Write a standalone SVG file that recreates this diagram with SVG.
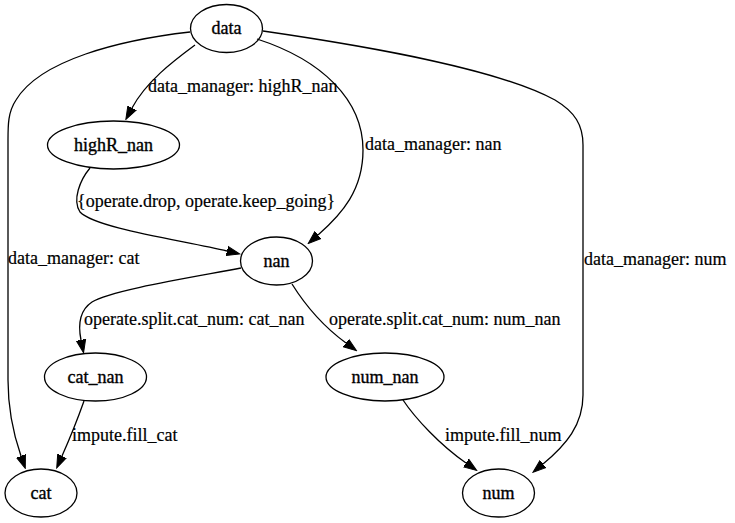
<svg xmlns="http://www.w3.org/2000/svg" width="735" height="523" viewBox="0 0 735 523">
  <style>
    .node ellipse { fill: none; stroke: #000; stroke-width: 1.3; }
    .node text { font-family: "Liberation Serif", "Times New Roman", serif; font-size: 18px; text-anchor: middle; fill: #000; stroke: #000; stroke-width: 0.35; }
    .edge path { fill: none; stroke: #000; stroke-width: 1.3; marker-end: url(#arrow); }
    .edge text { font-family: "Liberation Serif", "Times New Roman", serif; font-size: 18px; text-anchor: start; fill: #000; stroke: #000; stroke-width: 0.2; }
  </style>
  <defs>
    <marker id="arrow" viewBox="0 -6 14 12" refX="0" refY="0" markerWidth="14" markerHeight="12" markerUnits="userSpaceOnUse" orient="auto">
      <polygon points="0,-4.7 13,0 0,4.7" fill="#000" stroke="#000" stroke-width="1"/>
    </marker>
  </defs>
  <rect width="735" height="523" fill="#fff"/>

  <g id="edges">
    <!-- data -> highR_nan -->
    <g class="edge" id="e_data_highR">
      <path d="M195,45 C172,62 146,82 132,108"/>
      <text x="148" y="92">data_manager: highR_nan</text>
    </g>
    <!-- data -> nan -->
    <g class="edge" id="e_data_nan">
      <path d="M257,39 C322,60 363,100 363,150 C363,190 342,214 318,235"/>
      <text x="365" y="150">data_manager: nan</text>
    </g>
    <!-- data -> cat -->
    <g class="edge" id="e_data_cat">
      <path d="M190,32 C120,40 40,60 16,100 C8,112 8,125 8,140 L8,380 C8,410 13,433 21,456"/>
      <text x="8" y="264">data_manager: cat</text>
    </g>
    <!-- data -> num -->
    <g class="edge" id="e_data_num">
      <path d="M263,31 C380,48 500,70 555,100 C575,112 583,125 583,145 L583,395 C583,425 566,445 543,464"/>
      <text x="584" y="265">data_manager: num</text>
    </g>
    <!-- highR_nan -> nan -->
    <g class="edge" id="e_highR_nan">
      <path d="M90,168 C80,180 72,200 80,212 C95,228 180,240 227,251"/>
      <text x="77" y="207">{operate.drop, operate.keep_going}</text>
    </g>
    <!-- nan -> cat_nan -->
    <g class="edge" id="e_nan_catnan">
      <path d="M241,268 C200,276 110,290 92,302 C80,310 78,325 81,340"/>
      <text x="84" y="325">operate.split.cat_num: cat_nan</text>
    </g>
    <!-- nan -> num_nan -->
    <g class="edge" id="e_nan_numnan">
      <path d="M292,284 C302,300 320,324 346,343"/>
      <text x="329" y="325">operate.split.cat_num: num_nan</text>
    </g>
    <!-- cat_nan -> cat -->
    <g class="edge" id="e_catnan_cat">
      <path d="M84,401 C78,418 70,438 62,456"/>
      <text x="72" y="441">impute.fill_cat</text>
    </g>
    <!-- num_nan -> num -->
    <g class="edge" id="e_numnan_num">
      <path d="M403,400 C415,418 440,445 466,463"/>
      <text x="445" y="441">impute.fill_num</text>
    </g>
  </g>

  <g class="node" id="data">
    <ellipse cx="226.5" cy="28.5" rx="36" ry="24"/>
    <text x="226.5" y="34">data</text>
  </g>
  <g class="node" id="highR_nan">
    <ellipse cx="113.5" cy="145" rx="66" ry="24"/>
    <text x="113.5" y="150.5">highR_nan</text>
  </g>
  <g class="node" id="nan">
    <ellipse cx="276.5" cy="261" rx="36" ry="24"/>
    <text x="276.5" y="266.5">nan</text>
  </g>
  <g class="node" id="cat_nan">
    <ellipse cx="95.5" cy="377" rx="51" ry="24"/>
    <text x="95.5" y="382.5">cat_nan</text>
  </g>
  <g class="node" id="num_nan">
    <ellipse cx="385" cy="377" rx="59" ry="24"/>
    <text x="385" y="382.5">num_nan</text>
  </g>
  <g class="node" id="cat">
    <ellipse cx="41" cy="493" rx="36" ry="24"/>
    <text x="41" y="498.5">cat</text>
  </g>
  <g class="node" id="num">
    <ellipse cx="498.5" cy="493" rx="36" ry="24"/>
    <text x="498.5" y="498.5">num</text>
  </g>
</svg>
